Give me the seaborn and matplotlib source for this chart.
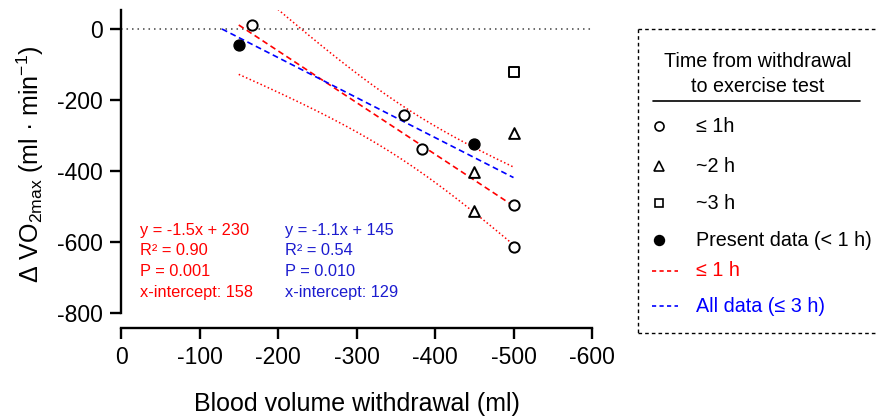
import numpy as np
import pandas as pd
import matplotlib
matplotlib.use("Agg")
import matplotlib.pyplot as plt
from matplotlib.lines import Line2D
import seaborn as sns

# ---------------- data ----------------
x_1h = [-167, -360, -383, -500, -500]
y_1h = [10, -241, -337, -496, -615]
x_2h = [-450, -450, -500]
y_2h = [-403, -512, -292]
x_3h = [-500]
y_3h = [-121]
x_present = [-150, -450]
y_present = [-44, -324]

x_ticks = [0, -100, -200, -300, -400, -500, -600]
y_ticks = [0, -200, -400, -600, -800]

red_stats = ["y = -1.5x + 230", "R\u00b2 = 0.90", "P = 0.001", "x-intercept: 158"]
blue_stats = ["y = -1.1x + 145", "R\u00b2 = 0.54", "P = 0.010", "x-intercept: 129"]

legend_title = ["Time from withdrawal", "to exercise test"]
legend_labels = ["\u2264 1h", "~2 h", "~3 h", "Present data (< 1 h)", "\u2264 1 h", "All data (\u2264 3 h)"]
T_CRIT_DF5 = 2.571  # two-sided 95% t critical value, df = 5

# ---------------- style ----------------
sns.set_theme(style="ticks")
plt.rcParams["font.family"] = ["Liberation Sans", "DejaVu Sans"]
plt.rcParams["mathtext.fontset"] = "custom"
plt.rcParams["mathtext.rm"] = "Liberation Sans"
plt.rcParams["mathtext.default"] = "regular"
plt.rcParams["axes.unicode_minus"] = False

RED = "#ff0000"
BLUE = "#0000ff"
BLUE_TXT = "#1c1ccf"

W, H = 876, 417
fig = plt.figure(figsize=(W / 100, H / 100), dpi=100)
fig.patch.set_facecolor("white")

def fx(px):
    return px / W

def fy(py):
    return 1 - py / H

ax = fig.add_axes([fx(121), fy(313), (592 - 121) / W, (313 - 10) / H])
ax.set_facecolor("white")

# zero reference line
ax.axhline(0, color="#444444", lw=1.1, ls=(0, (1, 2.6)), zorder=1)

# ---------------- fits ----------------
xr = np.array(x_1h + x_present, dtype=float)
yr = np.array(y_1h + y_present, dtype=float)
xa = np.array(x_1h + x_2h + x_3h + x_present, dtype=float)
ya = np.array(y_1h + y_2h + y_3h + y_present, dtype=float)

b_r, a_r = np.polyfit(xr, yr, 1)
b_a, a_a = np.polyfit(xa, ya, 1)

# red line over data range
xs_r = np.linspace(xr.max(), xr.min(), 200)
ax.plot(xs_r, a_r + b_r * xs_r, color=RED, lw=1.2, ls=(0, (3.5, 2.2)), zorder=2)
# blue line from its x-intercept to data max
x0_a = -a_a / b_a
xs_a = np.linspace(x0_a, xa.min(), 200)
ax.plot(xs_a, a_a + b_a * xs_a, color=BLUE, lw=1.2, ls=(0, (3.5, 2.2)), zorder=2)

# 95% CI of red fit (dotted)
n = len(xr)
resid = yr - (a_r + b_r * xr)
s = np.sqrt(np.sum(resid ** 2) / (n - 2))
sxx = np.sum((xr - xr.mean()) ** 2)
se = s * np.sqrt(1 / n + (xs_r - xr.mean()) ** 2 / sxx)
yhat = a_r + b_r * xs_r
ax.plot(xs_r, yhat + T_CRIT_DF5 * se, color=RED, lw=1.1, ls=(0, (1, 1.6)), zorder=2)
ax.plot(xs_r, yhat - T_CRIT_DF5 * se, color=RED, lw=1.1, ls=(0, (1, 1.6)), zorder=2)

# ---------------- points ----------------
df1 = pd.DataFrame({"x": x_1h, "y": y_1h})
df2 = pd.DataFrame({"x": x_2h, "y": y_2h})
df3 = pd.DataFrame({"x": x_3h, "y": y_3h})
dfp = pd.DataFrame({"x": x_present, "y": y_present})

sns.scatterplot(data=df1, x="x", y="y", ax=ax, marker="o", s=55, facecolor="white",
                edgecolor="black", linewidth=1.4, zorder=4)
sns.scatterplot(data=df2, x="x", y="y", ax=ax, marker="^", s=60, facecolor="white",
                edgecolor="black", linewidth=1.4, zorder=4)
sns.scatterplot(data=df3, x="x", y="y", ax=ax, marker="s", s=48, facecolor="white",
                edgecolor="black", linewidth=1.4, zorder=4)
sns.scatterplot(data=dfp, x="x", y="y", ax=ax, marker="o", s=62, facecolor="black",
                edgecolor="black", linewidth=1.0, zorder=4)

# ---------------- axes ----------------
ax.set_xlim(0, -600)
ax.set_ylim(-800, 53.5)
ax.set_xticks(x_ticks)
ax.set_yticks(y_ticks)
ax.set_xticklabels([str(v) for v in x_ticks])
ax.set_yticklabels([str(v) for v in y_ticks])
for side in ["top", "right"]:
    ax.spines[side].set_visible(False)
for side in ["left", "bottom"]:
    ax.spines[side].set_linewidth(1.7)
    ax.spines[side].set_color("black")
ax.spines["bottom"].set_position(("outward", 10.8))
ax.tick_params(axis="both", direction="out", length=8, width=1.7, color="black",
               labelsize=16.5, labelcolor="black")
ax.tick_params(axis="y", pad=5)
ax.tick_params(axis="x", pad=5)
ax.grid(False)

ax.set_xlabel("Blood volume withdrawal (ml)", fontsize=18, color="black")
ax.set_ylabel("\u0394 VO$_{2max}$ (ml \u00b7 min$^{-1}$)", fontsize=18, color="black")
ax.xaxis.set_label_coords(0.5, -0.262)
ax.yaxis.set_label_coords(-0.16, 0.49)

# ---------------- stats text ----------------
line_px = [230.7, 250.7, 271, 292]
for txt, py in zip(red_stats, line_px):
    fig.text(fx(140.5), fy(py), txt, color=RED, fontsize=11.8, ha="left", va="center")
for txt, py in zip(blue_stats, line_px):
    fig.text(fx(285), fy(py), txt, color=BLUE_TXT, fontsize=11.8, ha="left", va="center")

# ---------------- legend ----------------
dash = (0, (2.6, 2.2))
fig.add_artist(Line2D([fx(637.5), fx(880)], [fy(29), fy(29)], transform=fig.transFigure,
                      color="black", lw=1.0, ls=dash))
fig.add_artist(Line2D([fx(637.5), fx(880)], [fy(332.5), fy(332.5)], transform=fig.transFigure,
                      color="black", lw=1.0, ls=dash))
fig.add_artist(Line2D([fx(637.5), fx(637.5)], [fy(29), fy(332.5)], transform=fig.transFigure,
                      color="black", lw=1.0, ls=dash))

fig.text(fx(758), fy(61.5), legend_title[0], fontsize=14.2, ha="center", va="center", color="black")
fig.text(fx(758), fy(86.5), legend_title[1], fontsize=14.2, ha="center", va="center", color="black")
fig.add_artist(Line2D([fx(653), fx(860)], [fy(101), fy(101)], transform=fig.transFigure,
                      color="black", lw=1.2))

entry_y = [126, 166, 203, 240, 271, 306]
mk = [("o", "white", 6.5), ("^", "white", 6.5), ("s", "white", 6.3), ("o", "black", 7.0)]
for (m, fc, ms), py in zip(mk, entry_y[:4]):
    fig.add_artist(Line2D([fx(659)], [fy(py)], transform=fig.transFigure, marker=m,
                          markersize=ms, markerfacecolor=fc, markeredgecolor="black",
                          markeredgewidth=1.2, ls="none"))
fig.add_artist(Line2D([fx(652), fx(678)], [fy(entry_y[4])] * 2, transform=fig.transFigure,
                      color=RED, lw=1.2, ls=(0, (2.5, 2))))
fig.add_artist(Line2D([fx(652), fx(678)], [fy(entry_y[5])] * 2, transform=fig.transFigure,
                      color=BLUE, lw=1.2, ls=(0, (2.5, 2))))
lab_colors = ["black", "black", "black", "black", RED, BLUE]
for lab, py, c in zip(legend_labels, entry_y, lab_colors):
    fig.text(fx(696), fy(py), lab, fontsize=14.2, ha="left", va="center", color=c)

fig.savefig("out.png", dpi=100, facecolor="white")
